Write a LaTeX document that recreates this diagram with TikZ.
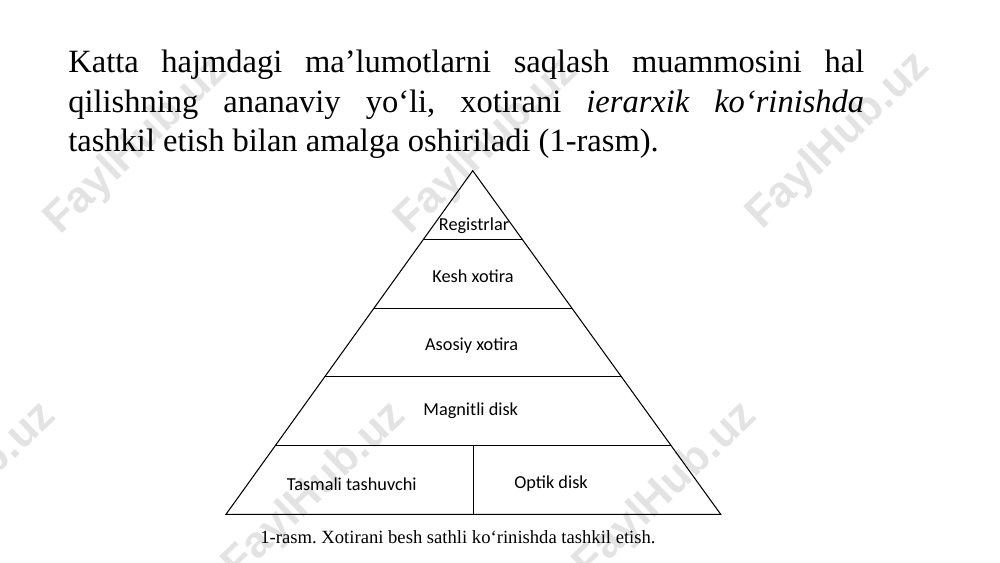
\documentclass[tikz,border=0pt]{standalone}
\usepackage{fontspec}
\setmainfont{Liberation Serif}
\newfontfamily\labelfont{Carlito}
\newfontfamily\wmfont{Liberation Sans}
\usetikzlibrary{calc}
\frenchspacing

\begin{document}
\begin{tikzpicture}[x=0.02cm, y=-0.02cm,
  layer/.style={line width=0.6pt},
  lvl/.style={font=\labelfont\fontsize{10.4}{12}\selectfont, inner sep=0pt},
  wmark/.style={font=\wmfont\bfseries\fontsize{25}{25}\selectfont, text=black!11, rotate=44}]
  \useasboundingbox (0,0) rectangle (1000,562);
  % watermarks
  \foreach \wx/\wy [count=\i] in {137/146, 487/146, 839/141, -35/491, 315/491, 666/491}
    \node [wmark] (wm\i) at (\wx,\wy) {FaylHub.uz};
  % paragraph
  \node [anchor=north west, text width=15.92cm, align=justify, inner sep=0pt,
    font=\fontsize{18.5}{22.6}\selectfont] (para) at (68,49.5)
    {\tolerance=10000 Katta hajmdagi ma’lumotlarni saqlash muammosini hal\linebreak
     qilishning ananaviy yo‘li, xotirani \textit{ierarxik ko‘rinishda}\linebreak
     tashkil etish bilan amalga oshiriladi (1-rasm).};
  % pyramid
  \coordinate (apex) at (472.7,170.7);
  \coordinate (bl) at (226,514.3);
  \coordinate (br) at (720.7,514.3);
  \draw [layer] (apex) -- (bl) -- (br) -- cycle;
  \foreach \t/\n in {0.2/1,0.4/2,0.6/3,0.8/4} {
    \coordinate (l\n) at ($(apex)!\t!(bl)$);
    \coordinate (r\n) at ($(apex)!\t!(br)$);
    \draw [layer] (l\n) -- (r\n);
  }
  \coordinate (bm) at ($(bl)!0.5!(br)$);
  \draw [layer] (bm) -- (bm |- l4);
  % levels
  \node [lvl] (reg) at (474,226) {Registrlar};
  \node [lvl] (kesh) at (473,276.7) {Kesh xotira};
  \node [lvl] (asosiy) at (471.7,345.7) {Asosiy xotira};
  \node [lvl] (magn) at (470.7,411) {Magnitli disk};
  \node [lvl] (tasma) at (351.7,484.3) {Tasmali tashuvchi};
  \node [lvl] (optik) at (551,483.3) {Optik disk};
  % caption
  \node [anchor=base, inner sep=0pt, font=\fontsize{10.6}{12}\selectfont] (cap) at (458,543)
    {1-rasm. Xotirani besh sathli ko‘rinishda tashkil etish.};
\end{tikzpicture}
\end{document}
